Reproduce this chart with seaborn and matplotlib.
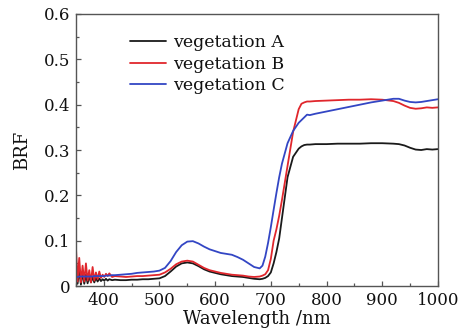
import matplotlib
matplotlib.use("Agg")
import matplotlib.pyplot as plt
import seaborn as sns
import pandas as pd

# ---------------- data ----------------
wavelength = [350, 353, 356, 359, 362, 365, 368, 371, 374, 377, 380, 383, 386, 389,
              392, 395, 398, 401, 404, 407, 410, 415, 420, 430, 440, 450, 460, 470,
              480, 490, 500, 510, 520, 530, 540, 550, 560, 570, 580, 590, 600, 610,
              620, 630, 640, 650, 660, 670, 680, 685, 690, 695, 700, 705, 710, 715,
              720, 730, 740, 750, 755, 760, 765, 770, 780, 800, 820, 840, 860, 880,
              900, 920, 930, 940, 950, 960, 970, 980, 990, 1000]

veg_a = [0.050, 0.005, 0.035, 0.003, 0.030, 0.005, 0.025, 0.006, 0.022, 0.008, 0.020,
         0.008, 0.018, 0.010, 0.017, 0.011, 0.015, 0.012, 0.016, 0.012, 0.015, 0.013,
         0.014, 0.013, 0.013, 0.014, 0.014, 0.015, 0.015, 0.016, 0.017, 0.022, 0.032,
         0.043, 0.050, 0.052, 0.050, 0.044, 0.037, 0.032, 0.029, 0.026, 0.024, 0.022,
         0.021, 0.020, 0.018, 0.016, 0.015, 0.016, 0.018, 0.022, 0.030, 0.050, 0.075,
         0.105, 0.150, 0.240, 0.285, 0.303, 0.308, 0.311, 0.312, 0.312, 0.313, 0.313,
         0.314, 0.314, 0.314, 0.315, 0.315, 0.314, 0.313, 0.310, 0.305, 0.301, 0.300,
         0.302, 0.301, 0.302]

veg_b = [0.088, 0.010, 0.062, 0.008, 0.045, 0.010, 0.050, 0.012, 0.035, 0.008, 0.042,
         0.012, 0.030, 0.015, 0.032, 0.018, 0.025, 0.020, 0.027, 0.022, 0.028, 0.020,
         0.022, 0.021, 0.020, 0.021, 0.022, 0.022, 0.023, 0.024, 0.025, 0.030, 0.038,
         0.048, 0.054, 0.056, 0.054, 0.047, 0.040, 0.035, 0.032, 0.029, 0.027, 0.025,
         0.024, 0.023, 0.021, 0.020, 0.021, 0.023, 0.026, 0.035, 0.060, 0.100, 0.125,
         0.155, 0.190, 0.265, 0.340, 0.390, 0.402, 0.405, 0.407, 0.407, 0.408, 0.409,
         0.410, 0.411, 0.411, 0.412, 0.411, 0.408, 0.404, 0.398, 0.393, 0.391, 0.392,
         0.394, 0.393, 0.394]

veg_c = [0.020, 0.020, 0.021, 0.021, 0.021, 0.021, 0.021, 0.021, 0.021, 0.021, 0.021,
         0.022, 0.022, 0.022, 0.022, 0.022, 0.022, 0.022, 0.023, 0.023, 0.023, 0.024,
         0.024, 0.025, 0.026, 0.027, 0.029, 0.030, 0.031, 0.032, 0.034, 0.040, 0.055,
         0.075, 0.090, 0.098, 0.099, 0.094, 0.087, 0.081, 0.077, 0.073, 0.071, 0.069,
         0.064, 0.058, 0.050, 0.042, 0.039, 0.045, 0.065, 0.095, 0.130, 0.168, 0.205,
         0.240, 0.270, 0.315, 0.342, 0.360, 0.366, 0.372, 0.378, 0.377, 0.380, 0.385,
         0.390, 0.395, 0.400, 0.405, 0.409, 0.413, 0.413, 0.409, 0.406, 0.405, 0.406,
         0.408, 0.410, 0.412]

series_names = ["vegetation A", "vegetation B", "vegetation C"]
series_colors = ["#1a1a1a", "#e0262c", "#3346c4"]
x_ticks = [400, 500, 600, 700, 800, 900, 1000]
y_ticks = [0, 0.1, 0.2, 0.3, 0.4, 0.5, 0.6]
y_tick_labels = ["0", "0.1", "0.2", "0.3", "0.4", "0.5", "0.6"]

# ---------------- frame ----------------
frames = []
for name, vals in zip(series_names, [veg_a, veg_b, veg_c]):
    frames.append(pd.DataFrame({"Wavelength": wavelength, "BRF": vals, "series": name}))
df = pd.concat(frames, ignore_index=True)

sns.set_style("ticks")
plt.rcParams["font.family"] = ["DejaVu Serif"]

fig = plt.figure(figsize=(4.6, 3.33), dpi=100)
ax = fig.add_axes([0.165, 0.141, 0.787, 0.817])

sns.lineplot(data=df, x="Wavelength", y="BRF", hue="series",
             palette=dict(zip(series_names, series_colors)),
             estimator=None, linewidth=1.3, ax=ax, sort=False)

ax.set_xlim(350, 1000)
ax.set_ylim(0, 0.6)
ax.set_xticks(x_ticks)
ax.set_xticklabels([str(t) for t in x_ticks])
ax.set_yticks(y_ticks)
ax.set_yticklabels(y_tick_labels)
ax.set_xticks(list(range(350, 1001, 50)), minor=True)
ax.set_yticks([i * 0.05 for i in range(13)], minor=True)

ax.tick_params(which="both", direction="in", top=False, right=False,
               labelsize=12, colors="#555555", labelcolor="#111111", width=0.9)
ax.tick_params(which="major", length=3.5, pad=4)
ax.tick_params(which="minor", length=2)
for sp in ax.spines.values():
    sp.set_color("#555555")
    sp.set_linewidth(1.0)

ax.set_xlabel("Wavelength /nm", fontsize=13, color="#111111", labelpad=1)
ax.set_ylabel("BRF", fontsize=13, color="#111111", labelpad=9)

leg = ax.legend(loc="upper left", bbox_to_anchor=(0.149, 0.925), frameon=False,
                fontsize=12.5, handlelength=2.1, handletextpad=0.4,
                labelspacing=0.25, borderaxespad=0, borderpad=0)
for t in leg.get_texts():
    t.set_color("#111111")

fig.savefig("out.png", dpi=100)
